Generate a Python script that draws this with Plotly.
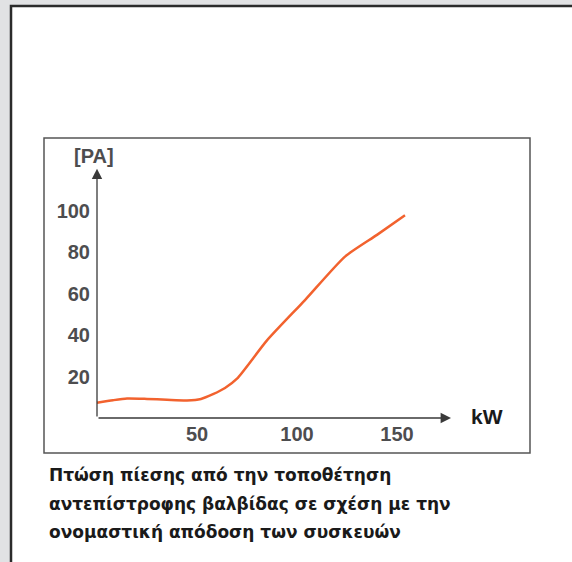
import plotly.graph_objects as go

# Pressure drop of the check valve vs rated output
power_kw = [0, 8, 15, 25, 35, 45, 52, 58, 64, 70, 85, 104, 124, 140, 154]
pressure_pa = [7.4, 8.6, 9.4, 9.2, 8.8, 8.5, 9.2, 11.5, 14.5, 19, 37.5, 57, 78, 88.5, 98]

x_ticks = [50, 100, 150]
y_ticks = [20, 40, 60, 80, 100]
y_label = "[PA]"
x_label = "kW"
caption = ["Πτώση πίεσης από την τοποθέτηση",
           "αντεπίστροφης βαλβίδας σε σχέση με την",
           "ονομαστική απόδοση των συσκευών"]

W, H = 572, 562
L, R, T, B = 96, 42, 138, 144
PW, PH = W - L - R, H - T - B


def px(x):
    return (x - L) / PW


def py(y):
    return (H - B - y) / PH


fig = go.Figure()
fig.add_trace(go.Scatter(
    x=power_kw, y=pressure_pa, mode="lines",
    line=dict(color="#f2622e", width=2.5, shape="spline", smoothing=0.6),
    hoverinfo="skip", showlegend=False
))

tick_font = dict(family="Liberation Sans, Arial", size=20, color="#4d4d4f", weight="bold")

fig.update_layout(
    width=W, height=H,
    margin=dict(l=L, r=R, t=T, b=B),
    paper_bgcolor="#e1e2e4",
    plot_bgcolor="rgba(0,0,0,0)",
    showlegend=False,
    xaxis=dict(range=[-0.5, 216.5], tickvals=x_ticks, showgrid=False, zeroline=False,
               showline=False, ticks="", tickfont=tick_font, ticklabelstandoff=2),
    yaxis=dict(range=[0, 135.3], tickvals=y_ticks, showgrid=False, zeroline=False,
               showline=False, ticks="", tickfont=tick_font, ticklabelstandoff=5),
    shapes=[
        # outer frame
        dict(type="rect", xref="paper", yref="paper", layer="below",
             x0=px(11), x1=px(600), y0=py(600), y1=py(6),
             fillcolor="white", line=dict(color="#2b2b2b", width=2.5)),
        # chart box
        dict(type="rect", xref="paper", yref="paper", layer="below",
             x0=px(44), x1=px(530), y0=py(453), y1=py(138),
             fillcolor="white", line=dict(color="#555555", width=1.5)),
    ],
)

# axis arrows
for x0, y0, x1, y1 in [(0, 0, 0, 120.5), (0, 0, 177, 0)]:
    fig.add_annotation(x=x1, y=y1, ax=x0, ay=y0, xref="x", yref="y", axref="x", ayref="y",
                       text="", showarrow=True, arrowhead=2, arrowsize=1.6, arrowwidth=1.3,
                       arrowcolor="#3a3a3a", standoff=0)

fig.add_annotation(x=px(94), y=py(156), xref="paper", yref="paper", text=y_label,
                   xanchor="center", yanchor="middle", showarrow=False,
                   font=dict(family="Liberation Sans, Arial", size=20, color="#4d4d4f", weight="bold"))
fig.add_annotation(x=px(487), y=py(416), xref="paper", yref="paper", text=x_label,
                   xanchor="center", yanchor="middle", showarrow=False,
                   font=dict(family="Liberation Sans, Arial", size=21, color="#1a1a1a", weight="bold"))

for i, line in enumerate(caption):
    fig.add_annotation(x=px(47), y=py(475 + 28.5 * i), xref="paper", yref="paper",
                       xanchor="left", yanchor="middle", align="left", showarrow=False,
                       text=line,
                       font=dict(family="DejaVu Sans", size=17, color="#1a1a1a", weight="bold"))

fig.write_html("out.html", config={"displayModeBar": False},
               post_script="document.body.style.margin='0';")
